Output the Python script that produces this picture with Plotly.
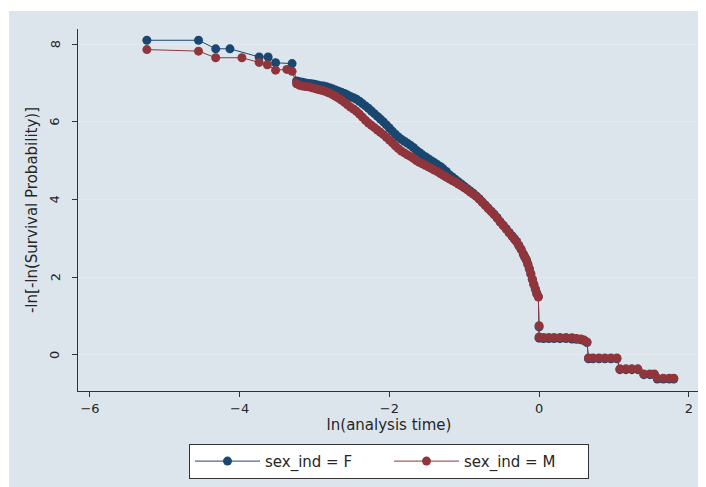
import plotly.graph_objects as go

# Female (sex_ind = F)
f_x = [-5.24, -4.55, -4.32, -4.13, -3.74, -3.62, -3.52, -3.30,
       -3.24, -3.20, -3.16, -3.12, -3.08, -3.04, -3.00, -2.96, -2.92, -2.88,
       -2.84, -2.80, -2.76, -2.72, -2.68, -2.64, -2.60, -2.56, -2.52, -2.48,
       -2.44, -2.40, -2.36, -2.32, -2.28, -2.24, -2.20, -2.16, -2.12, -2.08,
       -2.04, -2.00, -1.96, -1.92, -1.88, -1.84, -1.80, -1.76, -1.72, -1.68,
       -1.64, -1.60, -1.56, -1.52, -1.48, -1.44, -1.40, -1.36, -1.32, -1.28,
       -1.24, -1.20, -1.16, -1.12, -1.08, -1.04, -1.00, -0.96, -0.92, -0.88,
       -0.84, -0.80, -0.76, -0.72, -0.68, -0.64, -0.60, -0.56, -0.52, -0.48,
       -0.44, -0.40, -0.36, -0.33, -0.30, -0.27, -0.24, -0.21, -0.19, -0.17,
       -0.15, -0.13, -0.11, -0.09, -0.07, -0.05, -0.03, -0.01,
       0.00, 0.00, 0.06, 0.13, 0.20, 0.28, 0.36, 0.44, 0.50, 0.56, 0.60, 0.64,
       0.66, 0.72, 0.80, 0.88, 0.96, 1.04,
       1.08, 1.16, 1.24, 1.32, 1.40, 1.48, 1.54, 1.58, 1.66, 1.74, 1.80]
f_y = [8.10, 8.10, 7.88, 7.88, 7.67, 7.67, 7.52, 7.50,
       7.05, 7.03, 7.02, 7.00, 6.99, 6.98, 6.97, 6.95, 6.93, 6.92,
       6.90, 6.88, 6.85, 6.82, 6.79, 6.76, 6.73, 6.69, 6.65, 6.62,
       6.58, 6.53, 6.47, 6.41, 6.35, 6.28, 6.21, 6.14, 6.07, 6.00,
       5.92, 5.84, 5.76, 5.68, 5.61, 5.55, 5.50, 5.45, 5.40, 5.34,
       5.27, 5.21, 5.15, 5.10, 5.05, 5.00, 4.95, 4.90, 4.85, 4.79,
       4.72, 4.64, 4.58, 4.52, 4.46, 4.40, 4.34, 4.28, 4.22, 4.16,
       4.09, 4.02, 3.94, 3.86, 3.78, 3.70, 3.62, 3.53, 3.43, 3.34,
       3.25, 3.15, 3.06, 2.99, 2.92, 2.82, 2.72, 2.60, 2.52, 2.45,
       2.34, 2.22, 2.09, 1.95, 1.82, 1.70, 1.58, 1.50,
       0.72, 0.43, 0.42, 0.42, 0.42, 0.42, 0.42, 0.41, 0.40, 0.39, 0.37, 0.32,
       -0.10, -0.10, -0.10, -0.10, -0.10, -0.10,
       -0.38, -0.38, -0.38, -0.38, -0.51, -0.51, -0.51, -0.62, -0.62, -0.62, -0.62]

# Male (sex_ind = M)
m_x = [-5.24, -4.55, -4.32, -3.97, -3.74, -3.63, -3.52, -3.37, -3.30,
       -3.24, -3.20, -3.16, -3.12, -3.08, -3.04, -3.00, -2.96, -2.92, -2.88,
       -2.84, -2.80, -2.76, -2.72, -2.68, -2.64, -2.60, -2.56, -2.52, -2.48,
       -2.44, -2.40, -2.36, -2.32, -2.28, -2.24, -2.20, -2.16, -2.12, -2.08,
       -2.04, -2.00, -1.96, -1.92, -1.88, -1.84, -1.80, -1.76, -1.72, -1.68,
       -1.64, -1.60, -1.56, -1.52, -1.48, -1.44, -1.40, -1.36, -1.32, -1.28,
       -1.24, -1.20, -1.16, -1.12, -1.08, -1.04, -1.00, -0.96, -0.92, -0.88,
       -0.84, -0.80, -0.76, -0.72, -0.68, -0.64, -0.60, -0.56, -0.52, -0.48,
       -0.44, -0.40, -0.36, -0.33, -0.30, -0.27, -0.24, -0.21, -0.19, -0.17,
       -0.15, -0.13, -0.11, -0.09, -0.07, -0.05, -0.03, -0.01,
       0.00, 0.00, 0.06, 0.13, 0.20, 0.28, 0.36, 0.44, 0.50, 0.56, 0.60, 0.64,
       0.66, 0.72, 0.80, 0.88, 0.96, 1.04,
       1.08, 1.16, 1.24, 1.32, 1.40, 1.48, 1.54, 1.58, 1.66, 1.74, 1.80]
m_y = [7.86, 7.82, 7.65, 7.65, 7.53, 7.47, 7.33, 7.35, 7.30,
       6.98, 6.94, 6.92, 6.91, 6.90, 6.88, 6.86, 6.84, 6.82, 6.80,
       6.77, 6.74, 6.70, 6.66, 6.61, 6.56, 6.50, 6.44, 6.38, 6.33,
       6.27, 6.20, 6.12, 6.04, 5.97, 5.91, 5.85, 5.79, 5.73, 5.67,
       5.60, 5.53, 5.46, 5.38, 5.31, 5.25, 5.20, 5.15, 5.11, 5.06,
       5.00, 4.96, 4.92, 4.88, 4.84, 4.80, 4.76, 4.72, 4.67, 4.62,
       4.58, 4.53, 4.49, 4.45, 4.40, 4.35, 4.30, 4.25, 4.19, 4.14,
       4.08, 4.01, 3.93, 3.85, 3.77, 3.69, 3.61, 3.52, 3.42, 3.33,
       3.24, 3.14, 3.05, 2.98, 2.91, 2.81, 2.71, 2.59, 2.51, 2.44,
       2.33, 2.21, 2.08, 1.94, 1.81, 1.69, 1.57, 1.49,
       0.75, 0.46, 0.45, 0.45, 0.45, 0.45, 0.45, 0.44, 0.42, 0.41, 0.38, 0.33,
       -0.08, -0.08, -0.08, -0.08, -0.08, -0.08,
       -0.36, -0.36, -0.36, -0.36, -0.49, -0.49, -0.49, -0.60, -0.60, -0.60, -0.60]

x_ticks = [-6, -4, -2, 0, 2]
y_ticks = [0, 2, 4, 6, 8]
y_tick_labels = ["0", "2", "4", "6", "8"]

BLUE = "#1a476f"
RED = "#90353b"
BG = "#dde5ec"
TXT = "#262626"
FONT = "DejaVu Sans, Verdana, sans-serif"

fig = go.Figure()
fig.add_trace(go.Scatter(x=f_x, y=f_y, mode="lines+markers", name="sex_ind = F",
                         line=dict(color=BLUE, width=1),
                         marker=dict(color=BLUE, size=9, line=dict(width=0))))
fig.add_trace(go.Scatter(x=m_x, y=m_y, mode="lines+markers", name="sex_ind = M",
                         line=dict(color=RED, width=1),
                         marker=dict(color=RED, size=9, line=dict(width=0))))

# rotated y tick labels (Stata style), placed off the axis
annotations = [dict(x=0, xref="paper", y=v, yref="y", text=t, textangle=-90,
                    showarrow=False, xanchor="center", yanchor="middle", xshift=-23,
                    font=dict(family=FONT, size=13, color=TXT))
               for v, t in zip(y_ticks, y_tick_labels)]

fig.update_layout(
    width=698, height=479,
    margin=dict(l=70, r=6, t=21, b=96, autoexpand=False),
    paper_bgcolor="white",
    plot_bgcolor="white",
    font=dict(family=FONT, size=13, color=TXT),
    showlegend=True,
    legend=dict(orientation="h", x=0.5, xanchor="center", y=-0.146, yanchor="top",
                bgcolor="white", bordercolor="#333333", borderwidth=1,
                itemwidth=65, font=dict(family=FONT, size=15), entrywidth=119,
                tracegroupgap=0),
    annotations=annotations,
    shapes=[dict(type="rect", xref="paper", yref="paper",
                 x0=-69/622, x1=1 + 6/622, y0=-96/362, y1=1 + 18/362,
                 fillcolor=BG, line=dict(width=0), layer="below")],
)
fig.update_xaxes(range=[-6.16, 2.15], tickvals=x_ticks, ticks="outside", ticklen=5,
                 tickcolor="#333333", showline=True, linecolor="#333333", linewidth=1,
                 showgrid=False, zeroline=False, automargin=False,
                 tickfont=dict(family=FONT, size=13),
                 title=dict(text="ln(analysis time)", standoff=2,
                            font=dict(family=FONT, size=15)))
fig.update_yaxes(range=[-0.93, 8.39], tickvals=y_ticks, ticks="outside", ticklen=5,
                 tickcolor="#333333", showline=True, linecolor="#333333", linewidth=1,
                 showgrid=True, gridcolor="#e6eaee", gridwidth=1, zeroline=False,
                 showticklabels=False, automargin=False,
                 title=dict(text="-ln[-ln(Survival Probability)]", standoff=30,
                            font=dict(family=FONT, size=15)))

fig.write_html("out.html")
